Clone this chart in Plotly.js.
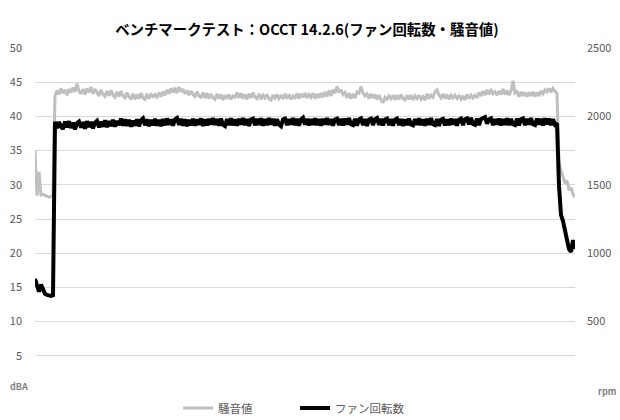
<!DOCTYPE html>
<html>
<head>
<meta charset="utf-8">
<script src="https://cdn.plot.ly/plotly-3.0.1.min.js"></script>
<style>html,body{margin:0;padding:0;background:#fff;}#chart{width:620px;height:420px;}</style>
</head>
<body>
<div id="chart"></div>
<script>
// Series names
const seriesNames = ["騒音値", "ファン回転数"];
// Noise level (dBA), sampled left to right
const noiseDBA = [
35.0, 28.4, 31.9, 28.5, 28.6, 28.4, 28.3, 28.2, 28.3, 28.4,
43.0, 43.8, 43.2, 44.1, 43.4, 43.9, 43.1, 44.0, 43.5, 44.2,
43.6, 44.8, 43.7, 43.3, 44.0, 43.2, 44.1, 43.5, 44.3, 43.3,
44.0, 43.4, 43.0, 43.9, 43.2, 42.9, 43.7, 43.0, 43.8, 43.1,
42.8, 43.6, 42.9, 43.7, 43.0, 42.7, 43.5, 42.8, 42.6, 43.3,
42.5, 43.2, 42.6, 43.4, 42.7, 42.5, 43.3, 42.6, 43.2, 42.9,
43.2, 42.7, 43.5, 42.9, 43.6, 43.1, 43.9, 43.3, 44.1, 43.5,
44.2, 43.4, 44.3, 43.6, 44.0, 43.3, 43.8, 43.1, 43.7, 43.2,
42.9, 43.6, 43.0, 42.8, 43.5, 42.7, 43.4, 42.6, 43.3, 42.7,
42.5, 43.3, 42.6, 43.2, 42.4, 43.1, 42.6, 43.2, 42.5, 43.0,
42.8, 43.5, 42.7, 43.4, 42.6, 43.2, 42.5, 43.3, 42.7, 43.5,
42.8, 42.6, 43.3, 42.5, 43.1, 42.7, 43.2, 42.6, 42.4, 43.1,
42.7, 43.2, 42.6, 43.0, 42.7, 43.3, 42.6, 43.2, 42.5, 43.0,
42.6, 43.4, 42.6, 43.3, 42.8, 43.4, 42.7, 43.2, 42.8, 43.4,
42.6, 43.3, 42.7, 43.4, 42.8, 43.6, 42.9, 43.8, 43.0, 43.9,
43.4, 44.4, 43.5, 43.9, 43.2, 43.5, 42.7, 43.4, 42.6, 43.3,
42.7, 43.6, 43.4, 44.4, 43.4, 43.0, 43.3, 42.6, 43.3, 42.7,
43.2, 42.5, 43.1, 42.4, 42.0, 42.8, 42.5, 43.0, 42.6, 43.1,
42.4, 43.1, 42.5, 43.2, 42.6, 42.4, 43.1, 42.5, 43.1, 42.4,
43.0, 42.6, 43.1, 42.5, 42.9, 42.4, 43.3, 42.6, 43.1, 42.8,
43.6, 43.9, 43.1, 42.7, 43.3, 42.6, 43.2, 42.5, 43.1, 42.7,
43.1, 42.6, 43.0, 42.5, 43.0, 42.4, 43.2, 42.6, 43.1, 42.7,
43.1, 42.7, 43.5, 43.0, 43.7, 43.1, 43.9, 43.2, 44.0, 43.3,
43.6, 43.1, 43.7, 43.2, 44.0, 43.2, 43.8, 43.1, 43.7, 45.2,
43.4, 43.6, 42.9, 43.6, 43.0, 43.5, 42.9, 43.5, 43.0, 43.6,
42.9, 43.5, 43.0, 43.7, 43.3, 43.9, 43.6, 44.1, 43.5, 44.1,
43.7, 43.3, 33.5, 32.0, 31.2, 30.2, 30.6, 29.2, 29.6, 28.6,
28.2
];
// Fan speed (rpm), sampled left to right
const fanRPM = [
812, 750, 718, 770, 735, 703, 695, 690, 688, 692,
1960, 1915, 1958, 1925, 1908, 1962, 1920, 1965, 1915, 1955,
1905, 1950, 1962, 1918, 1958, 1910, 1965, 1922, 1960, 1912,
1955, 1968, 1920, 1962, 1925, 1972, 1922, 1965, 1930, 1975,
1925, 1968, 1935, 1985, 1932, 1978, 1930, 1975, 1925, 1970,
1932, 1978, 1928, 1972, 1985, 1935, 1978, 1928, 1975, 1935,
1982, 1932, 1975, 1928, 1980, 1935, 1985, 1938, 1978, 1932,
1978, 1988, 1938, 1982, 1932, 1978, 1928, 1975, 1935, 1982,
1932, 1978, 1938, 1985, 1930, 1978, 1935, 1982, 1940, 1988,
1938, 1980, 1932, 1984, 1940, 1930, 1980, 1936, 1986, 1935,
1978, 1932, 1982, 1940, 1988, 1936, 1980, 1930, 1978, 1984,
1935, 1982, 1938, 1986, 1932, 1980, 1936, 1988, 1940, 1982,
1932, 1980, 1940, 1928, 1978, 1984, 1936, 1980, 1940, 1988,
1936, 1982, 1932, 1978, 1990, 1940, 1983, 1934, 1980, 1938,
1986, 1936, 1980, 1932, 1982, 1940, 1988, 1938, 1980, 1932,
1978, 1984, 1936, 1982, 1934, 1984, 1940, 1988, 1942, 1936,
1982, 1932, 1978, 1986, 1936, 1980, 1930, 1978, 1984, 1936,
1980, 1988, 1938, 1982, 1934, 1978, 1984, 1936, 1980, 1932,
1976, 1984, 1936, 1980, 1930, 1978, 1936, 1984, 1940, 1934,
1980, 1938, 1986, 1936, 1978, 1932, 1982, 1938, 1988, 1942,
1936, 1980, 1930, 1976, 1982, 1934, 1978, 1936, 1984, 1940,
1980, 1932, 1976, 1984, 1936, 1980, 1986, 1942, 1990, 1944,
1938, 1984, 1936, 1980, 1988, 1995, 1946, 1978, 1986, 1936,
1980, 1940, 1984, 1934, 1980, 1938, 1986, 1936, 1982, 1942,
1936, 1984, 1934, 1980, 1986, 1936, 1982, 1940, 1988, 1942,
1936, 1984, 1940, 1982, 1934, 1986, 1942, 1984, 1936, 1980,
1940, 1950, 1490, 1280, 1235, 1170, 1120, 1030, 1010, 1095,
1030
];
// Axis ticks
const leftTickVals = [5, 10, 15, 20, 25, 30, 35, 40, 45, 50];
const rightTickVals = [500, 1000, 1500, 2000, 2500];
const gridVals = [250, 500, 750, 1000, 1250, 1500, 1750, 2000, 2250];
const leftUnit = "dBA";
const rightUnit = "rpm";
const titleText = "ベンチマークテスト：OCCT 14.2.6(ファン回転数・騒音値)";

const FONT = "'Noto Sans CJK JP', 'Noto Sans', sans-serif";
const n = noiseDBA.length;

const traces = [
  {x: [0], y: [null], yaxis: "y3", showlegend: false, hoverinfo: "skip", mode: "lines"},
  {y: noiseDBA, name: seriesNames[0], type: "scatter", mode: "lines",
   line: {color: "#bfbfbf", width: 3}, yaxis: "y", hoverinfo: "skip"},
  {y: fanRPM, name: seriesNames[1], type: "scatter", mode: "lines",
   line: {color: "#000000", width: 4}, yaxis: "y2", hoverinfo: "skip"}
];

const layout = {
  width: 620, height: 420,
  margin: {l: 35, r: 45, t: 48, b: 30, pad: 0, autoexpand: false},
  paper_bgcolor: "#ffffff", plot_bgcolor: "#ffffff",
  font: {family: FONT, color: "#595959", size: 11},
  title: {text: titleText, font: {family: FONT, size: 14.4, color: "#000000", weight: "bold"},
          x: 0.495, xref: "container", xanchor: "center", y: 0.928, yref: "container", yanchor: "middle"},
  showlegend: true,
  legend: {orientation: "h", x: 0.265, xanchor: "left", y: (390 - 408) / 342, yanchor: "middle",
           font: {family: FONT, size: 11.5, color: "#595959"}, entrywidth: 72, entrywidthmode: "pixels",
           bgcolor: "rgba(0,0,0,0)", borderwidth: 0, traceorder: "normal"},
  xaxis: {range: [0, n - 1], visible: false, showgrid: false, zeroline: false, fixedrange: true},
  yaxis: {range: [0, 50], tickmode: "array", tickvals: leftTickVals, showgrid: false, zeroline: false,
          showline: false, ticks: "", ticklabelstandoff: 12, tickfont: {family: FONT, size: 11, color: "#595959"},
          fixedrange: true},
  yaxis2: {range: [0, 2500], overlaying: "y", side: "right", tickmode: "array", tickvals: rightTickVals,
           showgrid: false, zeroline: false, showline: false, ticks: "", ticklabelstandoff: 11,
           tickfont: {family: FONT, size: 11, color: "#595959"}, fixedrange: true},
  yaxis3: {range: [0, 2500], overlaying: "y", side: "right", tickmode: "array", tickvals: gridVals,
           showgrid: true, gridcolor: "#d9d9d9", gridwidth: 1, zeroline: false, showticklabels: false,
           showline: false, ticks: "", fixedrange: true, layer: "below traces"},
  annotations: [
    {text: "<b>" + leftUnit + "</b>", xref: "paper", yref: "paper", x: (19 - 35) / 540, y: (390 - 386) / 342,
     xanchor: "center", yanchor: "middle", showarrow: false, font: {family: FONT, size: 9, color: "#7f7f7f"}},
    {text: "<b>" + rightUnit + "</b>", xref: "paper", yref: "paper", x: (607 - 35) / 540, y: (390 - 391.5) / 342,
     xanchor: "center", yanchor: "middle", showarrow: false, font: {family: FONT, size: 9, color: "#7f7f7f"}}
  ]
};

Plotly.newPlot("chart", traces, layout, {staticPlot: true, displayModeBar: false});
</script>
</body>
</html>
